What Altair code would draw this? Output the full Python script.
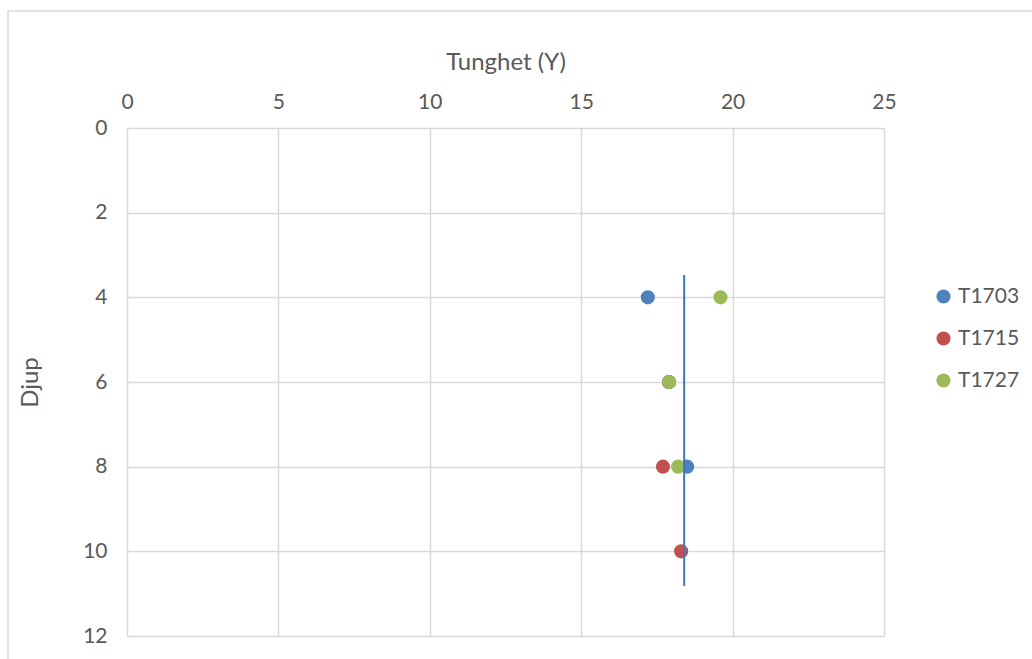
import altair as alt
import pandas as pd

# Depth readings (Djup) and density (Tunghet) per sample series
depths = [4, 6, 8, 10]
series_names = ["T1703", "T1715", "T1727"]
t1703 = [17.2, 17.9, 18.5, None]
t1715 = [None, 17.9, 17.7, 18.3]
t1727 = [19.6, 17.9, 18.2, None]
series_colors = ["#4f81bd", "#c0504d", "#9bbb59"]

# Vertical reference line (mean density) and its depth span
ref_x = [18.4]
ref_top = [3.47]
ref_bottom = [10.82]

rows = []
for name, vals in zip(series_names, [t1703, t1715, t1727]):
    for d, v in zip(depths, vals):
        if v is not None:
            rows.append({"serie": name, "Djup": d, "Tunghet": v})
points_df = pd.DataFrame(rows)
ref_df = pd.DataFrame({"x": ref_x, "y1": ref_top, "y2": ref_bottom})

FONT = "Lato"
GREY = "#595959"

x_scale = alt.Scale(domain=[0, 25], nice=False, zero=True)
y_scale = alt.Scale(domain=[0, 12], reverse=True, nice=False)

frame = alt.Chart(pd.DataFrame({"a": [0]})).mark_rect(
    fill=None, stroke="#d9d9d9", strokeWidth=1.5
).encode(
    x=alt.value(-119), x2=alt.value(960), y=alt.value(-117), y2=alt.value(600)
)

points = alt.Chart(points_df).mark_circle(size=200, opacity=1).encode(
    x=alt.X(
        "Tunghet:Q",
        scale=x_scale,
        axis=alt.Axis(
            orient="top", title="Tunghet (Y)", values=[0, 5, 10, 15, 20, 25],
            titlePadding=17, labelPadding=16,
        ),
    ),
    y=alt.Y(
        "Djup:Q",
        scale=y_scale,
        axis=alt.Axis(title="Djup", values=[0, 2, 4, 6, 8, 10, 12],
                      titlePadding=40, labelPadding=20),
    ),
    color=alt.Color(
        "serie:N",
        scale=alt.Scale(domain=series_names, range=series_colors),
        legend=alt.Legend(
            title=None, orient="none", legendX=806, legendY=158,
            symbolType="circle", symbolSize=200, labelFontSize=21,
            labelFont=FONT, labelColor=GREY, rowPadding=20, labelOffset=4,
        ),
    ),
    order=alt.Order("serie:N"),
)

ref = alt.Chart(ref_df).mark_rule(color="#3f76bd", strokeWidth=2).encode(
    x="x:Q", y="y1:Q", y2="y2:Q"
)

chart = alt.layer(frame, points, ref).properties(
    width=757, height=508,
    padding={"left": 127, "top": 128, "right": 148, "bottom": 23},
    autosize=alt.AutoSizeParams(type="none"),
).configure_view(stroke=None).configure_axis(
    grid=True, gridColor="#d9d9d9", gridWidth=1.5, domain=False, ticks=False,
    labelFlush=False,
    labelFont=FONT, labelFontSize=21, labelColor=GREY,
    titleFont=FONT, titleFontSize=24, titleColor=GREY, titleFontWeight="normal",
)

chart.save("out.html", embed_options={"renderer": "svg", "actions": False})
